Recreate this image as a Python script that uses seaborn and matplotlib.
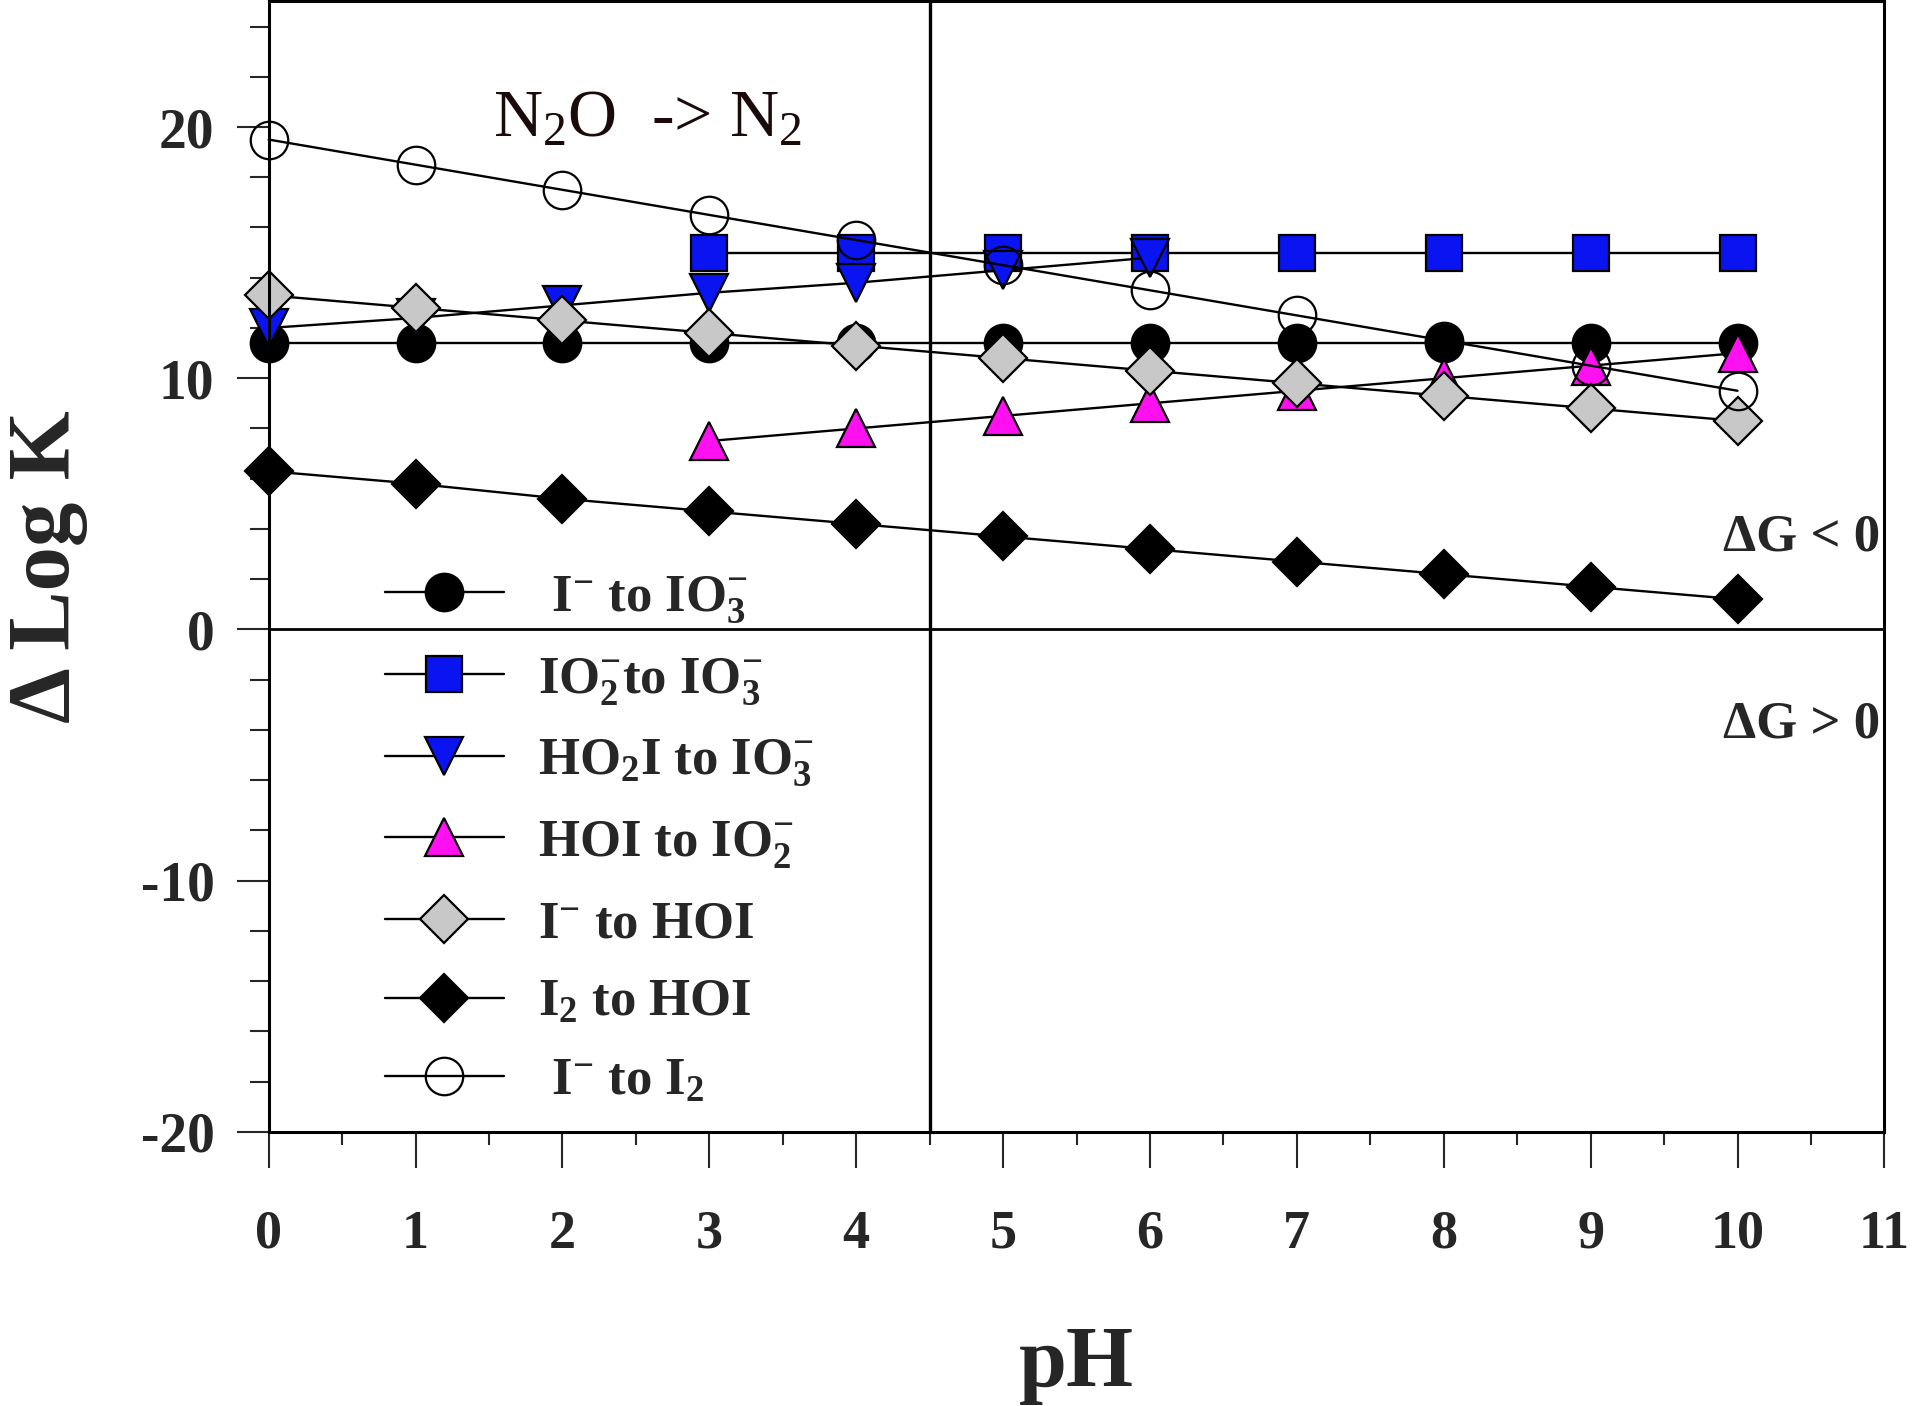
import numpy as np
import pandas as pd
import seaborn as sns
import matplotlib.pyplot as plt
from matplotlib.ticker import MultipleLocator

# valores
ph_all = [0, 1, 2, 3, 4, 5, 6, 7, 8, 9, 10]
ph_from3 = [3, 4, 5, 6, 7, 8, 9, 10]
ph_to6 = [0, 1, 2, 3, 4, 5, 6]

i_to_io3 = [11.4, 11.4, 11.4, 11.4, 11.4, 11.4, 11.4, 11.4, 11.4, 11.4, 11.4]
io2_to_io3 = [15.0, 15.0, 15.0, 15.0, 15.0, 15.0, 15.0, 15.0]
ho2i_to_io3 = [12.0, 12.4, 12.9, 13.4, 13.8, 14.3, 14.8]
hoi_to_io2 = [7.5, 8.0, 8.5, 9.0, 9.5, 10.0, 10.5, 11.0]
i_to_hoi = [13.3, 12.8, 12.3, 11.8, 11.3, 10.8, 10.3, 9.8, 9.3, 8.8, 8.3]
i2_to_hoi = [6.3, 5.8, 5.2, 4.7, 4.2, 3.7, 3.2, 2.7, 2.2, 1.7, 1.2]
i_to_i2 = [19.5, 18.5, 17.5, 16.5, 15.5, 14.5, 13.5, 12.5, 11.5, 10.5, 9.5]

etiquetas = [r" I$^{-}$ to IO$_3^{-}$",
             r"IO$_2^{-}$to IO$_3^{-}$",
             r"HO$_2$I to IO$_3^{-}$",
             r"HOI to IO$_2^{-}$",
             r"I$^{-}$ to HOI",
             r"I$_2$ to HOI",
             r" I$^{-}$ to I$_2$"]

sns.set_style("white")
plt.rcParams['font.family'] = ['Liberation Serif', 'DejaVu Serif']
plt.rcParams['mathtext.fontset'] = 'custom'
plt.rcParams['mathtext.rm'] = 'Liberation Serif'
plt.rcParams['mathtext.bf'] = 'Liberation Serif:bold'
plt.rcParams['mathtext.default'] = 'regular'
plt.rcParams['axes.unicode_minus'] = False

fig, ax = plt.subplots(figsize=(19.19, 14.06), dpi=100)
fig.subplots_adjust(left=0.140, right=0.982, bottom=0.195, top=0.999)

series = [
    (ph_all, i_to_io3, 'o', 'black', 27),
    (ph_from3, io2_to_io3, 's', '#0A14F0', 26),
    (ph_to6, ho2i_to_io3, 'v', '#0A14F0', 28),
    (ph_from3, hoi_to_io2, '^', '#FF10F0', 28),
    (ph_all, i_to_hoi, 'D', '#C8C8C8', 24),
    (ph_all, i2_to_hoi, 'D', 'black', 24),
    (ph_all, i_to_i2, 'o', 'none', 27),
]

for (xs, ys, mk, fc, ms), lab in zip(series, etiquetas):
    sns.lineplot(x=xs, y=ys, ax=ax, color='black', linewidth=1.7,
                 marker=mk, markersize=ms, markerfacecolor=fc,
                 markeredgecolor='black', markeredgewidth=1.6,
                 clip_on=False, label=lab)

# lineas de referencia
ax.axvline(4.5, color='black', linewidth=2.4, zorder=1)
ax.axhline(0, color='black', linewidth=2.0, zorder=1)

ax.set_xlim(0, 11)
ax.set_ylim(-20, 25)
ax.xaxis.set_major_locator(MultipleLocator(1))
ax.xaxis.set_minor_locator(MultipleLocator(0.5))
ax.yaxis.set_major_locator(MultipleLocator(10))
ax.yaxis.set_minor_locator(MultipleLocator(2))

ax.tick_params(axis='x', which='major', direction='out', length=26, width=1.5,
               pad=30, labelsize=39, bottom=True, top=False)
ax.tick_params(axis='x', which='minor', direction='out', length=9, width=1.5,
               bottom=True, top=False)
ax.tick_params(axis='y', which='major', direction='out', length=23, width=1.5,
               pad=16, labelsize=40, left=True, right=False)
ax.tick_params(axis='y', which='minor', direction='out', length=14, width=1.5,
               left=True, right=False)
for lbl in ax.get_xticklabels() + ax.get_yticklabels():
    lbl.set_fontweight('bold')

for s in ax.spines.values():
    s.set_visible(True)
    s.set_color('black')
    s.set_linewidth(2.2)

ax.set_xlabel('pH', fontsize=62, fontweight='bold')
ax.set_ylabel('\u0394 Log K', fontsize=64, fontweight='bold')
ax.xaxis.set_label_coords(0.5, -0.172)
ax.yaxis.set_label_coords(-0.112, 0.5)

ax.text(1.53, 19.6, r"N$_2$O  -> N$_2$", fontsize=49, color='#1a0a0a',
        ha='left', va='baseline')
ax.text(10.97, 3.67, "\u0394G < 0", fontsize=38, fontweight='bold',
        ha='right', va='center')
ax.text(10.97, -3.8, "\u0394G > 0", fontsize=38, fontweight='bold',
        ha='right', va='center')

ax.legend(loc='upper left', bbox_to_anchor=(0.072, 0.4935), frameon=False,
          prop={'family': 'Liberation Serif', 'weight': 'bold', 'size': 38},
          handlelength=2.25, handletextpad=0.64, labelspacing=0.58,
          borderpad=0, borderaxespad=0)

fig.savefig('out.png', dpi=100)
